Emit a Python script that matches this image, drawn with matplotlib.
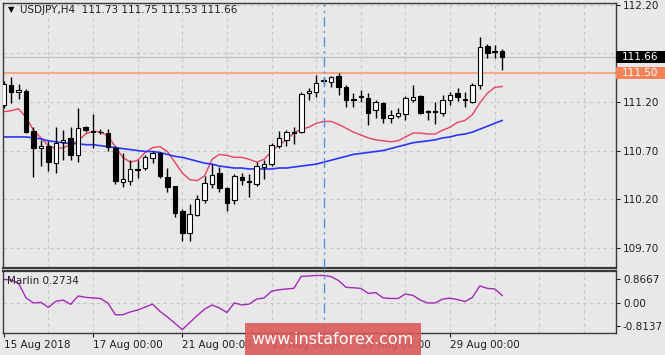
import numpy as np
import matplotlib
matplotlib.use("Agg")
import matplotlib.pyplot as plt
import matplotlib.transforms as mtransforms
from matplotlib.patches import Rectangle

# USDJPY H4 candles, 15 Aug 00:00 .. 30 Aug 04:00
opens = [111.17, 111.38, 111.30, 111.31, 110.90, 110.73, 110.75, 110.57, 110.79, 110.83,
         110.65, 110.94, 110.90, 110.89, 110.88, 110.73, 110.38, 110.39, 110.51, 110.52,
         110.62, 110.67, 110.43, 110.33, 110.08, 109.85, 110.04, 110.19, 110.36, 110.47,
         110.31, 110.19, 110.43, 110.39, 110.36, 110.53, 110.56, 110.75, 110.81, 110.89,
         110.89, 111.29, 111.30, 111.42, 111.41, 111.47, 111.35, 111.23, 111.26, 111.24,
         111.12, 111.19, 111.03, 111.06, 111.08, 111.22, 111.26, 111.11, 111.11, 111.09,
         111.22, 111.29, 111.23, 111.20, 111.38, 111.78, 111.71, 111.73]
highs = [111.42, 111.46, 111.39, 111.33, 110.94, 110.81, 110.80, 110.94, 110.91, 110.94,
         111.14, 110.95, 111.08, 110.92, 110.92, 110.75, 110.67, 110.60, 110.60, 110.65,
         110.70, 110.69, 110.52, 110.33, 110.10, 110.15, 110.24, 110.44, 110.56, 110.53,
         110.32, 110.46, 110.47, 110.46, 110.58, 110.60, 110.78, 110.90, 110.91, 110.94,
         111.30, 111.34, 111.48, 111.46, 111.47, 111.50, 111.37, 111.29, 111.32, 111.29,
         111.22, 111.20, 111.12, 111.14, 111.26, 111.37, 111.27, 111.12, 111.20, 111.27,
         111.30, 111.34, 111.30, 111.40, 111.87, 111.80, 111.79, 111.75]
lows = [111.14, 111.19, 111.23, 110.88, 110.43, 110.54, 110.49, 110.47, 110.60, 110.60,
        110.58, 110.89, 110.73, 110.87, 110.70, 110.36, 110.32, 110.34, 110.42, 110.50,
        110.57, 110.42, 110.27, 110.02, 109.77, 109.77, 110.03, 110.16, 110.31, 110.27,
        110.08, 110.15, 110.34, 110.22, 110.33, 110.41, 110.54, 110.73, 110.75, 110.77,
        110.88, 111.22, 111.25, 111.39, 111.35, 111.27, 111.15, 111.15, 111.20, 110.96,
        111.04, 110.98, 110.98, 111.04, 111.01, 111.20, 111.08, 111.01, 110.97, 111.06,
        111.17, 111.21, 111.15, 111.19, 111.33, 111.65, 111.65, 111.53]
closes = [111.39, 111.30, 111.32, 110.89, 110.73, 110.75, 110.58, 110.78, 110.81, 110.65,
          110.93, 110.91, 110.89, 110.89, 110.74, 110.39, 110.41, 110.51, 110.50, 110.63,
          110.67, 110.44, 110.32, 110.06, 109.85, 110.05, 110.20, 110.37, 110.45, 110.31,
          110.16, 110.44, 110.40, 110.38, 110.54, 110.56, 110.76, 110.83, 110.89, 110.88,
          111.28, 111.31, 111.40, 111.42, 111.46, 111.35, 111.22, 111.22, 111.25, 111.09,
          111.20, 111.03, 111.07, 111.09, 111.24, 111.25, 111.09, 111.10, 111.10, 111.22,
          111.27, 111.25, 111.22, 111.38, 111.77, 111.70, 111.73, 111.66]

# moving averages
ma_red = [111.10, 111.11, 111.13, 111.04, 110.91, 110.83, 110.75, 110.72, 110.73, 110.76,
          110.80, 110.87, 110.90, 110.89, 110.85, 110.74, 110.63, 110.58, 110.60, 110.68,
          110.73, 110.74, 110.69, 110.58, 110.47, 110.40, 110.39, 110.44, 110.61, 110.66,
          110.65, 110.63, 110.63, 110.61, 110.58, 110.61, 110.69, 110.76, 110.81, 110.88,
          110.92, 110.94, 110.98, 111.00, 111.00, 110.97, 110.93, 110.89, 110.86, 110.83,
          110.81, 110.80, 110.79, 110.80, 110.84, 110.88, 110.88, 110.87, 110.87, 110.91,
          110.94, 110.99, 111.01, 111.07, 111.19, 111.29, 111.35, 111.36]
ma_blue = [110.84, 110.84, 110.84, 110.84, 110.83, 110.82, 110.80, 110.79, 110.78, 110.77,
           110.77, 110.76, 110.76, 110.75, 110.74, 110.73, 110.72, 110.71, 110.70, 110.69,
           110.69, 110.68, 110.66, 110.64, 110.63, 110.61, 110.59, 110.57, 110.56, 110.54,
           110.53, 110.52, 110.52, 110.51, 110.51, 110.51, 110.51, 110.52, 110.52, 110.53,
           110.54, 110.55, 110.56, 110.58, 110.60, 110.62, 110.64, 110.66, 110.67, 110.68,
           110.69, 110.70, 110.72, 110.74, 110.76, 110.78, 110.79, 110.80, 110.81, 110.83,
           110.84, 110.86, 110.87, 110.89, 110.92, 110.95, 110.98, 111.01]

marlin = [0.84, 0.82, 0.70, 0.18, 0.00, 0.02, -0.16, 0.06, 0.10, -0.05,
          0.25, 0.20, 0.18, 0.16, 0.00, -0.42, -0.42, -0.32, -0.25, -0.15,
          -0.04, -0.30, -0.50, -0.72, -0.95, -0.70, -0.45, -0.22, -0.07, -0.18,
          -0.34, 0.00, -0.07, -0.04, 0.14, 0.18, 0.42, 0.47, 0.50, 0.52,
          0.95, 0.96, 0.98, 0.98, 0.94, 0.80, 0.56, 0.54, 0.52, 0.34,
          0.37, 0.18, 0.16, 0.16, 0.32, 0.27, 0.10, 0.00, 0.00, 0.14,
          0.17, 0.12, 0.05, 0.20, 0.61, 0.52, 0.50, 0.2734]

date_ticks = [0, 12, 24, 36, 48, 60]
date_labels = ["15 Aug 2018", "17 Aug 00:00", "21 Aug 00:00", "23 Aug 00:00",
               "27 Aug 00:00", "29 Aug 00:00"]
price_ticks = [112.20, 111.70, 111.20, 110.70, 110.20, 109.70]
marlin_ticks = [0.8667, 0.00, -0.8137]
level = 111.50
last_price = 111.66
marker_bar = 43

bg = "#e8e8e8"
fs = 7.5
fig = plt.figure(figsize=(6.65, 3.55), dpi=100, facecolor=bg)
ax = fig.add_axes([0.0045, 0.2451, 0.9218, 0.7465], facecolor=bg)
ax2 = fig.add_axes([0.0045, 0.062, 0.9218, 0.1747], facecolor=bg)

x = np.arange(len(opens))
for i in x:
    up = closes[i] >= opens[i]
    ax.vlines(i, lows[i], highs[i], color="black", lw=1, zorder=3)
    lo = min(opens[i], closes[i])
    h = max(abs(closes[i] - opens[i]), 0.004)
    ax.add_patch(Rectangle((i - 0.3, lo), 0.6, h, facecolor="white" if up else "black",
                           edgecolor="black", lw=0.8, zorder=4))

ax.plot(x, ma_red, color="#e8435f", lw=1, zorder=2)
ax.plot(x, ma_blue, color="#2a35ff", lw=1.2, zorder=2)
ax.axhline(level, color="#f5a98c", lw=1.5, zorder=1)
ax.axhline(last_price, color="#c4c4c4", lw=1, zorder=1)

xlim = (-0.1, 82.3)
for a in (ax, ax2):
    a.set_xlim(*xlim)
    for gx in range(6, 83, 6):
        a.axvline(gx, color="#c6c6c6", lw=0.8, ls=(0, (3, 3)), zorder=0)
    a.axvline(marker_bar, color="#4f94e0", lw=1, ls=(0, (7, 3, 1.5, 3)), zorder=5)
    for s in a.spines.values():
        s.set_color("#3a3a3a")
        s.set_linewidth(1)

for gy in price_ticks:
    ax.axhline(gy, color="#c6c6c6", lw=0.8, ls=(0, (3, 3)), zorder=0)
ax.set_ylim(109.49, 112.22)
ax.yaxis.tick_right()
ax.set_yticks(price_ticks)
# 111.70 sits under the current-price tag, so its label is hidden
ax.set_yticklabels(["" if abs(v - 111.70) < 1e-6 else f"{v:.2f}" for v in price_ticks])
ax.set_xticks([])
ax.tick_params(axis="y", direction="out", length=3, labelsize=fs, pad=2, colors="#202020")
ax.spines["bottom"].set_linewidth(1.6)

# price tags on the right axis
tag_tr = mtransforms.blended_transform_factory(fig.transFigure, ax.transData)
for val, col in [(last_price, "black"), (level, "#fa8258")]:
    ax.add_patch(Rectangle((0.9263, val - 0.063), 0.0737, 0.126, transform=tag_tr,
                           facecolor=col, edgecolor="none", clip_on=False, zorder=10))
    ax.text(0.935, val, f"{val:.2f}", transform=tag_tr, ha="left", va="center",
            fontsize=fs, color="white", clip_on=False, zorder=11)

ax.text(0.008, 0.975, "\u25bc", transform=ax.transAxes, fontsize=6, va="center", ha="left")
ax.text(0.027, 0.975, "USDJPY,H4  111.73 111.75 111.53 111.66", transform=ax.transAxes,
        fontsize=fs, va="center", ha="left", color="#202020")

# Marlin sub-window
ax2.plot(x, marlin, color="#a22ab8", lw=1)
ax2.axhline(0, color="#c6c6c6", lw=0.8, ls=(0, (3, 3)), zorder=0)
ax2.set_ylim(-1.07, 1.14)
ax2.yaxis.tick_right()
ax2.set_yticks(marlin_ticks)
ax2.set_yticklabels(["0.8667", "0.00", "-0.8137"])
ax2.set_xticks(date_ticks)
ax2.set_xticklabels(date_labels, ha="left")
ax2.tick_params(direction="out", length=3, labelsize=fs, pad=2, colors="#202020")
ax2.spines["top"].set_linewidth(1.6)
ax2.text(0.006, 0.84, "Marlin 0.2734", transform=ax2.transAxes, fontsize=fs,
         va="center", ha="left", color="#202020")

# watermark
fig.patches.append(Rectangle((0.368, 0.0), 0.265, 0.09, transform=fig.transFigure,
                             facecolor="#dc5a5a", alpha=0.9, edgecolor="none", zorder=20))
fig.text(0.5, 0.043, "www.instaforex.com", color="white", fontsize=11.5,
         ha="center", va="center", zorder=21)

fig.savefig("out.png", dpi=100, facecolor=bg)
